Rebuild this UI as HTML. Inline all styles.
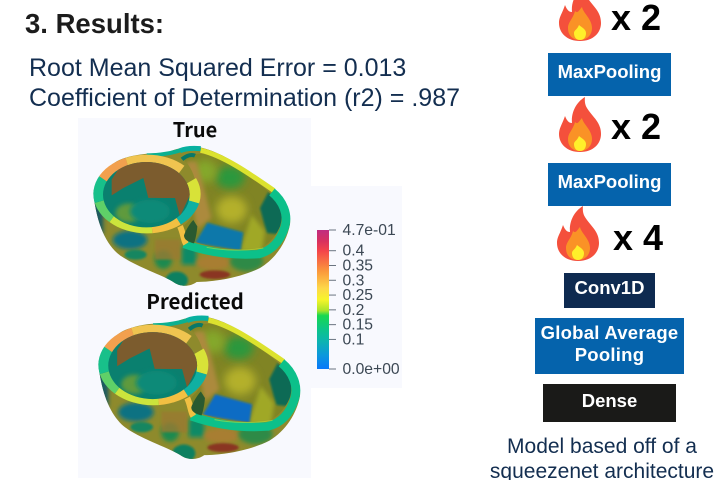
<!DOCTYPE html>
<html lang="en">
<head>
<meta charset="utf-8">
<title>Results slide</title>
<style>
html,body{margin:0;padding:0;background:#fff}
#slide{position:relative;width:722px;height:480px;overflow:hidden;background:#fff;font-family:"Liberation Sans",sans-serif}
#art{position:absolute;left:0;top:0}
.box{position:absolute;color:#fff;font-weight:bold;font-size:18.5px;text-align:center;display:flex;align-items:center;justify-content:center;line-height:22px;box-sizing:border-box;padding-bottom:5px}
.line{position:absolute;white-space:nowrap;line-height:1}
</style>
</head>
<body>
<div id="slide">
<svg id="art" width="722" height="480" viewBox="0 0 722 480" xmlns="http://www.w3.org/2000/svg">
<defs>
  <filter id="b6" x="-40%" y="-40%" width="180%" height="180%"><feGaussianBlur stdDeviation="6"/></filter>
  <filter id="b12" x="-50%" y="-50%" width="200%" height="200%"><feGaussianBlur stdDeviation="13"/></filter>
  <filter id="b3" x="-20%" y="-20%" width="140%" height="140%"><feGaussianBlur stdDeviation="3"/></filter>
  <clipPath id="bodyClip"><path d="M40,225 C45,190 75,150 110,130 C150,110 200,105 260,105 C290,90 320,85 360,88 C420,100 500,150 580,215 C610,245 635,280 630,320 C620,370 590,420 540,450 C480,480 400,492 350,492 C330,507 300,507 280,492 C250,472 170,447 120,412 C80,382 50,320 40,225 Z"/></clipPath>
  <clipPath id="lvClip"><ellipse cx="199" cy="230" rx="130" ry="98"/></clipPath>
  <clipPath id="ringClip"><ellipse cx="201" cy="228" rx="161" ry="118"/></clipPath>
  <clipPath id="rvClip"><path d="M305,120 C340,105 370,105 400,115 C460,140 520,180 570,225 C600,255 612,290 600,325 C585,360 560,385 530,395 C470,397 400,390 345,372 L320,360 C300,350 298,335 325,310 C345,290 355,250 350,210 C345,170 330,140 305,120 Z"/></clipPath>
  <linearGradient id="cbGrad" x1="0" y1="0" x2="0" y2="1">
    <stop offset="0" stop-color="#c02c80"/>
    <stop offset=".08" stop-color="#d8305f"/>
    <stop offset=".15" stop-color="#f4444a"/>
    <stop offset=".3" stop-color="#fb9a3c"/>
    <stop offset=".42" stop-color="#fdd848"/>
    <stop offset=".5" stop-color="#f7f52a"/>
    <stop offset=".58" stop-color="#a8e42a"/>
    <stop offset=".615" stop-color="#18d850"/>
    <stop offset=".72" stop-color="#0cc48c"/>
    <stop offset=".8" stop-color="#0cb4b0"/>
    <stop offset=".9" stop-color="#0c98dc"/>
    <stop offset="1" stop-color="#0a78fa"/>
  </linearGradient>
  <g id="flame">
    <path d="M0,0 C-13,0 -21,-8 -21,-18 C-21,-24 -18,-27 -15,-36 C-13,-31 -11,-29 -8,-29 C-9,-38 -5,-49 5,-55 C4,-47 7,-44 9,-41 C14,-34 21,-29 21,-18 C21,-8 13,0 0,0 Z" fill="#f4503c"/>
    <path d="M0,-1 C-8,-1 -12,-6 -12,-13 C-12,-19 -7,-22 -5,-30 C-2,-27 -1,-31 2,-34 C3,-28 12,-22 12,-13 C12,-6 7,-1 0,-1 Z" fill="#fa9226"/>
    <path d="M0,-1 C-4,-1 -6,-4 -6,-8 C-6,-11 -3,-11 -1,-16 C1,-14 6,-12 6,-8 C6,-4 4,-1 0,-1 Z" fill="#fff02a"/>
  </g>
  <g id="heart">
    <g clip-path="url(#bodyClip)">
      <rect x="0" y="60" width="680" height="460" fill="#8e8a2c"/>
      <rect x="20" y="200" width="50" height="150" fill="#1a5a60" filter="url(#b6)"/>
      <ellipse cx="150" cy="366" rx="52" ry="28" fill="#0a7282" filter="url(#b6)"/>
      <ellipse cx="167" cy="410" rx="33" ry="15" fill="#148660" filter="url(#b3)"/>
      <ellipse cx="250" cy="425" rx="26" ry="28" fill="#1f8a50" filter="url(#b6)"/>
      <rect x="305" y="385" width="45" height="55" fill="#0f8a66" filter="url(#b6)"/>
      <ellipse cx="400" cy="435" rx="52" ry="22" fill="#a87e30" filter="url(#b6)"/>
      <ellipse cx="405" cy="470" rx="46" ry="13" fill="#8a3420" filter="url(#b3)"/>
      <ellipse cx="500" cy="430" rx="50" ry="30" fill="#2f8a46" filter="url(#b6)"/>
      <ellipse cx="290" cy="487" rx="34" ry="26" fill="#0f8060" filter="url(#b3)"/>
      <rect x="225" y="365" width="75" height="60" fill="#9a7a30" opacity=".8" filter="url(#b3)"/>
    </g>
    <path d="M305,120 C340,105 370,105 400,115 C460,140 520,180 570,225 C600,255 612,290 600,325 C585,360 560,385 530,395 C470,397 400,390 345,372 L320,360 C300,350 298,335 325,310 C345,290 355,250 350,210 C345,170 330,140 305,120 Z" fill="#808424"/>
    <g clip-path="url(#rvClip)">
      <ellipse cx="450" cy="178" rx="44" ry="34" fill="#2a983c" filter="url(#b12)"/>
      <ellipse cx="375" cy="160" rx="36" ry="34" fill="#84a82c" filter="url(#b12)"/>
      <ellipse cx="455" cy="275" rx="46" ry="40" fill="#b4b02a" filter="url(#b12)"/>
      <path d="M318,130 L350,130 L395,300 L350,335 Z" fill="#ac8a3c" filter="url(#b6)"/>
      <path d="M565,222 L625,280 L605,350 L560,345 L540,270 Z" fill="#0a6a55" filter="url(#b3)"/>
      <path d="M515,290 L555,340 L545,400 L480,400 Z" fill="#a0a828" filter="url(#b6)"/>
      <path d="M382,314 L490,343 L482,398 L345,375 Z" style="fill:var(--blue,#0878aa)" filter="url(#b3)"/>
    </g>
    <path d="M306,124 C320,112 335,108 345,113" fill="none" stroke="#087868" stroke-width="12"/>
    <path d="M200,112 C240,112 280,104 300,97" fill="none" stroke="#0cb090" stroke-width="12"/>
    <path d="M300,98 C320,90 340,90 362,92" fill="none" stroke="#08b0a0" stroke-width="15"/>
    <path d="M362,97 C430,112 510,168 582,218" fill="none" stroke="#dce22e" stroke-width="15"/>
    <path d="M576,222 C610,250 625,290 615,325 C600,375 570,400 535,408" fill="none" stroke="#0cc08a" stroke-width="26"/>
    <path d="M540,408 C460,414 380,402 312,378" fill="none" stroke="#0cc08a" stroke-width="25"/>
    <path d="M380,388 C430,398 500,400 550,390" fill="none" stroke="#b8e03c" stroke-width="3" opacity=".6"/>
    <g clip-path="url(#ringClip)" fill="none" stroke-width="48">
      <ellipse cx="199" cy="230" rx="146" ry="106" pathLength="360" stroke="#d8e238" stroke-dasharray="30 330" stroke-dashoffset="20"/>
      <ellipse cx="199" cy="230" rx="146" ry="106" pathLength="360" stroke="#10b0a2" stroke-dasharray="34 326" stroke-dashoffset="-10"/>
      <ellipse cx="199" cy="230" rx="146" ry="106" pathLength="360" stroke="#f2c042" stroke-dasharray="38 322" stroke-dashoffset="-44"/>
      <ellipse cx="199" cy="230" rx="146" ry="106" pathLength="360" stroke="#cce43c" stroke-dasharray="58 302" stroke-dashoffset="-82"/>
      <ellipse cx="199" cy="230" rx="146" ry="106" pathLength="360" stroke="#5fd068" stroke-dasharray="30 330" stroke-dashoffset="-140"/>
      <ellipse cx="199" cy="230" rx="146" ry="106" pathLength="360" stroke="#18c08a" stroke-dasharray="33 327" stroke-dashoffset="-170"/>
      <ellipse cx="199" cy="230" rx="146" ry="106" pathLength="360" stroke="#f2a04e" stroke-dasharray="40 320" stroke-dashoffset="-203"/>
      <ellipse cx="199" cy="230" rx="146" ry="106" pathLength="360" stroke="#f0c450" stroke-dasharray="77 283" stroke-dashoffset="-243"/>
    </g>
    <ellipse cx="199" cy="230" rx="130" ry="98" fill="#0a806f"/>
    <g clip-path="url(#lvClip)">
      <path d="M95,185 L130,130 L280,125 L340,210 L300,295 L285,240 L205,240 L190,180 L130,210 L95,232 Z" fill="#7c5c2e"/>
      <ellipse cx="145" cy="285" rx="38" ry="28" fill="#5f9a3c" filter="url(#b6)"/>
      <ellipse cx="210" cy="280" rx="60" ry="35" fill="#0a8a78" filter="url(#b6)"/>
    </g>
    <path d="M300,325 C310,345 310,365 318,378" fill="none" stroke="#f2c042" stroke-width="18"/>
    <path d="M312,352 C316,340 328,318 340,306 L352,325 C350,350 345,368 342,376 C325,372 312,365 312,352 Z" fill="#2a5a30"/>
  </g>
</defs>

<rect x="78" y="118" width="233" height="360" fill="#f8f9fe"/>
<rect x="311" y="186" width="91" height="202" fill="#f8f9fe"/>

<use href="#heart" transform="translate(80,118) scale(.3333)"/>
<use href="#heart" transform="translate(84.67,287) scale(.3417)" style="--blue:#0b6cc4"/>

<text x="195" y="137" text-anchor="middle" font-family="'Noto Sans CJK JP','Liberation Sans',sans-serif" font-weight="bold" font-size="20" fill="#0a0a0a">True</text>
<text x="195" y="309" text-anchor="middle" font-family="'Noto Sans CJK JP','Liberation Sans',sans-serif" font-weight="bold" font-size="20.5" fill="#0a0a0a">Predicted</text>

<rect x="317" y="230" width="12" height="139" fill="url(#cbGrad)"/>
<g id="cbTicks"></g>

<use href="#flame" transform="translate(580,41)"/>
<use href="#flame" transform="translate(580,152)"/>
<use href="#flame" transform="translate(578,261)"/>
<text x="611" y="30" font-family="'Liberation Sans',sans-serif" font-weight="bold" font-size="36" fill="#000">x 2</text>
<text x="611" y="139" font-family="'Liberation Sans',sans-serif" font-weight="bold" font-size="36" fill="#000">x 2</text>
<text x="613" y="250" font-family="'Liberation Sans',sans-serif" font-weight="bold" font-size="36" fill="#000">x 4</text>
</svg>

<div class="line" style="left:25px;top:10px;font-size:27.5px;font-weight:bold;color:#1c1c1c">3. Results:</div>
<div class="line" style="left:29px;top:56px;font-size:25px;color:#132e50">Root Mean Squared Error = 0.013</div>
<div class="line" style="left:29px;top:86px;font-size:25px;color:#132e50">Coefficient of Determination (r2) = .987</div>

<div class="box" style="left:548px;top:53px;width:123px;height:43px;background:#0563ac">MaxPooling</div>
<div class="box" style="left:548px;top:163px;width:123px;height:43px;background:#0563ac">MaxPooling</div>
<div class="box" style="left:564px;top:273px;width:91px;height:35px;background:#0e2a50">Conv1D</div>
<div class="box" style="left:535px;top:318px;width:149px;height:56px;background:#0563ac;letter-spacing:.25px">Global Average<br>Pooling</div>
<div class="box" style="left:543px;top:384px;width:133px;height:38px;background:#1a1a18">Dense</div>

<div class="line" style="left:482px;top:434px;width:240px;text-align:center;font-size:21px;line-height:25px;color:#132e50">Model based off of a<br>squeezenet architecture</div>
</div>

<script>
var tickValues = [0.47, 0.4, 0.35, 0.3, 0.25, 0.2, 0.15, 0.1, 0];
var tickLabels = ["4.7e-01", "0.4", "0.35", "0.3", "0.25", "0.2", "0.15", "0.1", "0.0e+00"];
var cbDomain = [0, 0.47];

function cbY(v) {
  return 369 - (v - cbDomain[0]) / (cbDomain[1] - cbDomain[0]) * 139;
}

var cbGroup = document.getElementById('cbTicks');
var NS = 'http://www.w3.org/2000/svg';
tickValues.forEach(function (v, i) {
  var y = cbY(v);
  var tick = document.createElementNS(NS, 'line');
  
  
  tick.setAttribute('x1', 329);
  tick.setAttribute('x2', 336);
  tick.setAttribute('y1', y);
  tick.setAttribute('y2', y);
  tick.setAttribute('stroke', '#6a7480');
  tick.setAttribute('stroke-width', 1);
  cbGroup.appendChild(tick);
  var label = document.createElementNS(NS, 'text');
  
  
  label.setAttribute('x', 342.5);
  label.setAttribute('y', y + 5);
  label.setAttribute('font-family', "'Liberation Sans',sans-serif");
  label.setAttribute('font-size', 15.7);
  label.setAttribute('fill', '#3c4854');
  label.textContent = tickLabels[i];
  cbGroup.appendChild(label);
});
</script>
</body>
</html>
